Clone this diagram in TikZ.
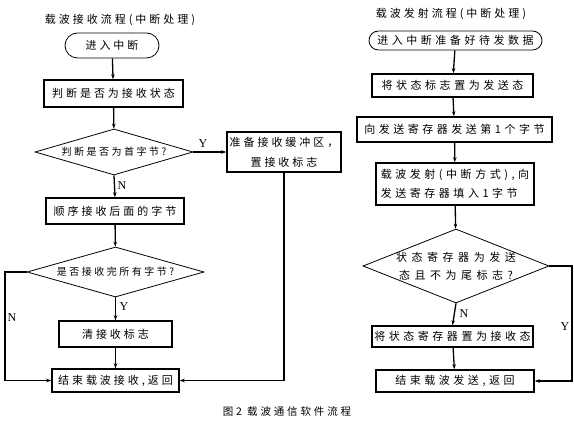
\documentclass[tikz,border=0pt]{standalone}
\usepackage{fontspec}
\setmainfont{Liberation Serif}
\newfontfamily\cjkA[LetterSpace=27]{Noto Sans CJK SC}
\newfontfamily\cjkB[LetterSpace=25]{Noto Sans CJK SC}
\newfontfamily\cjkC[LetterSpace=32]{Noto Sans CJK SC}
\newfontfamily\cjkD[LetterSpace=41]{Noto Sans CJK SC}
\newfontfamily\latinserif{Liberation Serif}
\usetikzlibrary{arrows.meta,shapes.geometric}
\begin{document}
\begin{tikzpicture}[x=1pt,y=-1pt,
  boxL/.style={draw, line width=1.5pt, inner sep=0pt, align=center, font={\cjkA\fontsize{11}{20}\selectfont}},
  boxR/.style={draw, line width=1.5pt, inner sep=0pt, align=center, font={\cjkC\fontsize{11}{19}\selectfont}},
  term/.style={draw, line width=0.8pt, inner sep=0pt},
  dia/.style={draw, shape=diamond, line width=0.8pt, inner sep=0pt},
  dtextL/.style={font={\cjkB\fontsize{10}{18}\selectfont}},
  dtextR/.style={font={\cjkD\fontsize{11}{18}\selectfont}, align=center},
  titletext/.style={font={\cjkA\fontsize{11}{14}\selectfont}},
  yn/.style={font={\latinserif\fontsize{12}{14}\selectfont}},
  conn/.style={line width=1.3pt, -{Stealth[length=5pt,width=3.5pt]}}
]
\fill[white] (0,0) rectangle (574,422);
\useasboundingbox (0,0) rectangle (574,422);

% ---------- left flowchart ----------
\node[titletext] (lt) at (120,20) {载波接收流程(中断处理)};
\node[term, rounded corners=12.5pt, minimum width=94pt, minimum height=25pt, font={\cjkA\fontsize{11}{14}\selectfont}] (t1) at (112,45.5) {进入中断};
\node[boxL, minimum width=139pt, minimum height=27pt] (b1) at (113.5,93.5) {判断是否为接收状态};
\node[dia, minimum width=158pt, minimum height=46pt, label={[dtextL]center:判断是否为首字节?}] (d1) at (114,152) {};
\node[boxL, minimum width=114pt, minimum height=40pt] (r1) at (284,152) {准备接收缓冲区，\\置接收标志};
\node[boxL, minimum width=138pt, minimum height=26pt] (b2) at (115,211) {顺序接收后面的字节};
\node[dia, minimum width=177pt, minimum height=50pt, label={[dtextL]center:是否接收完所有字节?}] (d2) at (115.5,272) {};
\node[boxL, minimum width=113pt, minimum height=26pt] (b3) at (115.5,334) {清接收标志};
\node[boxL, minimum width=127pt, minimum height=23pt] (b4) at (115.5,380.5) {结束载波接收,返回};
\coordinate (nl) at (5,272);

\draw[conn] (t1) -- (b1);
\draw[conn] (b1) -- (d1);
\draw[conn] (d1.east) -- (r1.west);
\draw[conn] (d1.south) -- (b2.north);
\draw[conn] (b2) -- (d2);
\draw[conn] (d2.south) -- (b3.north);
\draw[conn] (b3) -- (b4);
\draw[conn] (d2.west) -- (nl) |- (b4.west);
\draw[conn] (r1.south) |- (b4.east);

\node[yn] (ly1) at (203,144) {Y};
\node[yn] (ln1) at (122,186) {N};
\node[yn] (ly2) at (124,307) {Y};
\node[yn] (ln2) at (12,318) {N};

% ---------- right flowchart ----------
\node[titletext] (rt) at (451,14) {载波发射流程(中断处理)};
\node[term, rounded corners=9.5pt, minimum width=173pt, minimum height=19pt, font={\cjkC\fontsize{11}{14}\selectfont}] (t2) at (455.5,40.5) {进入中断准备好待发数据};
\node[boxR, minimum width=161pt, minimum height=23pt] (c1) at (452.5,85.5) {将状态标志置为发送态};
\node[boxR, minimum width=195pt, minimum height=25pt] (c2) at (454.5,129.5) {向发送寄存器发送第1个字节};
\node[boxR, minimum width=158pt, minimum height=42pt, align=left] (c3) at (455,184) {载波发射(中断方式),向\\发送寄存器填入1字节};
\node[dia, minimum width=186pt, minimum height=74pt, label={[dtextR]center:状态寄存器为发送\\态且不为尾标志?}] (d3) at (456,266) {};
\node[boxR, minimum width=161pt, minimum height=21pt] (c4) at (452.5,336.5) {将状态寄存器置为接收态};
\node[boxR, minimum width=158pt, minimum height=22pt] (c5) at (455,381) {结束载波发送,返回};
\coordinate (yr) at (572,266);

\draw[conn] (t2) -- (c1);
\draw[conn] (c1) -- (c2);
\draw[conn] (c2) -- (c3);
\draw[conn] (c3) -- (d3);
\draw[conn] (d3.south) -- (c4.north);
\draw[conn] (c4) -- (c5);
\draw[conn] (d3.east) -- (yr) |- (c5.east);

\node[yn] (rn1) at (464,314) {N};
\node[yn] (ry1) at (565,327) {Y};

% ---------- caption ----------
\node[font={\cjkA\fontsize{10.5}{14}\selectfont}] (cap) at (287,412) {图2 载波通信软件流程};
\end{tikzpicture}
\end{document}
